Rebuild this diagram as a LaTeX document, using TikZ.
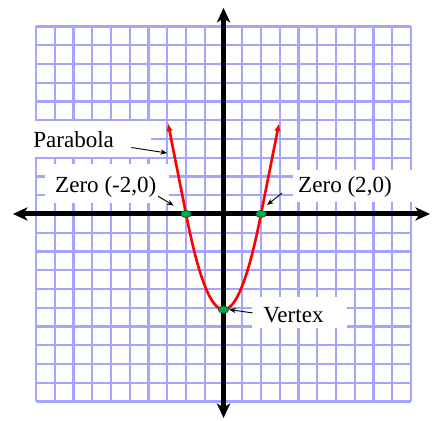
\documentclass[tikz,border=0pt]{standalone}
\usepackage{fontspec}
\setmainfont{Liberation Serif}
\newfontfamily\labelfont{Liberation Serif}
\usetikzlibrary{arrows.meta,calc,positioning,shapes.geometric}

\definecolor{gridblue}{RGB}{165,165,255}
\definecolor{dotgreen}{RGB}{0,170,80}
\definecolor{dotedge}{RGB}{0,95,45}

\begin{document}
\begin{tikzpicture}[x=0.5cm,y=0.5cm,
  gridline/.style={gridblue,line width=1.7pt},
  axis/.style={black,line width=3.8pt,
               {Stealth[length=11pt,width=10pt,inset=3pt]}-{Stealth[length=11pt,width=10pt,inset=3pt]}},
  curve/.style={red,line width=2pt,
                {Latex[length=6pt,width=5pt]}-{Latex[length=6pt,width=5pt]}},
  pointer/.style={black,line width=0.7pt,-{Stealth[length=5pt,width=4pt]}},
  zdot/.style={ellipse,fill=dotgreen,draw=dotedge,line width=0.6pt,inner sep=0pt,
               minimum width=8pt,minimum height=5.4pt},
  mask/.style={fill=white,draw=none},
  lbl/.style={inner sep=0pt,font=\labelfont\fontsize{17.5}{20}\selectfont}
]

\useasboundingbox (-11.92,-11.04) rectangle (11.17,11.41);

% ===== GRID =====
\foreach \k in {-10,...,10} {
  \draw[gridline] (\k,-10) -- (\k,10);
  \draw[gridline] (-10,\k) -- (10,\k);
}

% white patches behind the labels
\fill[mask] (-10.3,3.05) rectangle (-3.85,4.95);
\fill[mask] (-9.52,0.6) rectangle (-2.9,2.67);
\fill[mask] (3.71,0.64) rectangle (10.2,2.35);
\fill[mask] (1.52,-6.08) rectangle (6.59,-4.43);

% ===== AXES =====
\coordinate (xl) at (-11.23,0);
\coordinate (xr) at (11.01,0);
\coordinate (yb) at (0,-10.88);
\coordinate (yt) at (0,10.99);
\draw[axis] (xl) -- (xr);
\draw[axis] (yb) -- (yt);

% ===== PARABOLA =====
\coordinate (endL) at (-2.96,4.84);
\coordinate (endR) at (2.96,4.84);
\draw[curve] (endL) -- plot[domain=-2:2,samples=81] (\x,{1.275*\x*\x-5.1}) -- (endR);

\node[zdot] (zl) at (-2,0) {};
\node[zdot] (zr) at (2,0) {};
\node[zdot] (vtx) at (0,-5.1) {};

% ===== LABELS =====
\node[lbl,anchor=base west] (parabola) at (-10.16,3.57) {Parabola};
\node[lbl,anchor=base west] (zeroL) at (-8.99,1.12) {Zero (-2,0)};
\node[lbl,anchor=base west] (zeroR) at (3.97,1.12) {Zero (2,0)};
\node[lbl,anchor=base west] (vertex) at (2.11,-5.81) {Vertex};

\coordinate (tipP) at (-3.01,3.25);
\coordinate (tipZL) at (-2.66,0.45);
\coordinate (tipZR) at (2.32,0.48);

\draw[pointer] ([xshift=13pt]parabola.south east) -- (tipP);
\draw[pointer] ([xshift=1pt,yshift=1.5pt]zeroL.south east) -- (tipZL);
\draw[pointer] ([xshift=-12pt]zeroR.base west) -- (tipZR);
\draw[pointer] ([xshift=-8pt,yshift=2pt]vertex.west) -- (vtx.east);

\end{tikzpicture}
\end{document}
